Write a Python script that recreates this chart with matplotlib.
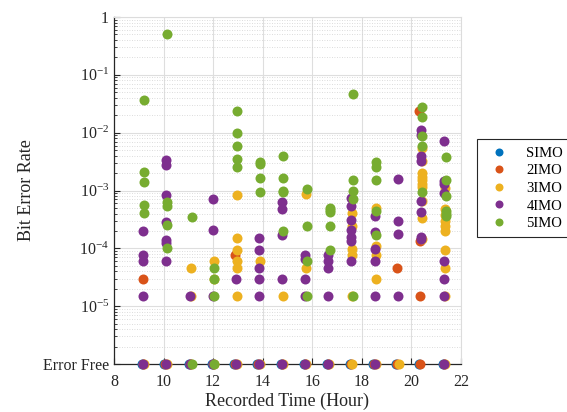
import numpy as np
import matplotlib.pyplot as plt
from matplotlib.ticker import LogLocator, NullFormatter

plt.rcParams['font.family'] = ['Liberation Serif', 'DejaVu Serif']
plt.rcParams['mathtext.fontset'] = 'custom'
plt.rcParams['mathtext.rm'] = 'Liberation Serif'
plt.rcParams['mathtext.it'] = 'Liberation Serif:italic'

# BER = 0 means "Error Free"
simo_t = [9.12, 10.02, 11.02, 11.94, 12.86, 13.79, 14.72, 15.66, 16.59, 17.52, 18.46, 19.39, 20.32, 21.27]
simo_ber = [0, 0, 0, 0, 0, 0, 0, 0, 0, 0, 0, 0, 0, 0]

imo2_t = [9.16, 9.16, 10.06, 11.06, 11.98, 12.9, 12.9, 13.83, 14.76, 15.7, 16.63, 17.56, 18.5,
          19.43, 19.43, 20.3, 20.36, 20.36, 20.36, 21.31]
imo2_ber = [3.0e-5, 0, 0, 0, 0, 7.6e-5, 0, 0, 0, 0, 0, 0, 0,
            4.6e-5, 0, 2.4e-2, 1.35e-4, 1.5e-5, 0, 0]

imo3_t = [9.22, 10.13,
          11.12, 11.12, 11.12,
          12.04, 12.04, 12.04,
          12.96, 12.96, 12.96, 12.96, 12.96, 12.96, 12.96,
          13.89, 13.89,
          14.82, 14.82,
          15.76, 15.76, 15.76,
          16.69,
          17.62, 17.62, 17.62, 17.62, 17.62, 17.62,
          18.56, 18.56, 18.56, 18.56, 18.56,
          19.49,
          20.42, 20.42, 20.42, 20.42, 20.42, 20.42, 20.42, 20.42, 20.42, 20.42,
          21.37, 21.37, 21.37, 21.37, 21.37, 21.37, 21.37, 21.37, 21.37, 21.37]
imo3_ber = [0, 0,
            4.5e-5, 1.5e-5, 0,
            6.1e-5, 3.0e-5, 0,
            8.2e-4, 1.5e-4, 9.2e-5, 6.1e-5, 4.6e-5, 1.5e-5, 0,
            6.1e-5, 0,
            1.5e-5, 0,
            8.8e-4, 4.6e-5, 0,
            0,
            4.1e-4, 2.4e-4, 9.7e-5, 7.8e-5, 1.5e-5, 0,
            5.0e-4, 1.1e-4, 7.6e-5, 3.0e-5, 0,
            0,
            5.5e-3, 3.2e-3, 2.0e-3, 1.7e-3, 1.5e-3, 1.3e-3, 1.15e-3, 6.5e-4, 3.3e-4, 1.45e-4,
            1.1e-3, 4.7e-4, 3.8e-4, 3.0e-4, 2.4e-4, 2.0e-4, 9.2e-5, 4.6e-5, 1.5e-5, 0]

imo4_t = [9.18, 9.18, 9.18, 9.18, 9.18,
          10.08, 10.08, 10.08, 10.08, 10.08, 10.08, 10.08, 10.08,
          11.08, 11.08,
          12.0, 12.0, 12.0, 12.0,
          12.92, 12.92,
          13.85, 13.85, 13.85, 13.85, 13.85, 13.85,
          14.78, 14.78, 14.78, 14.78, 14.78,
          15.72, 15.72, 15.72, 15.72, 15.72,
          16.65, 16.65, 16.65, 16.65, 16.65,
          17.58, 17.58, 17.58, 17.58, 17.58, 17.58, 17.58,
          18.52, 18.52, 18.52, 18.52, 18.52, 18.52,
          19.45, 19.45, 19.45, 19.45,
          20.38, 20.38, 20.38, 20.38, 20.38, 20.38, 20.38, 20.38,
          21.33, 21.33, 21.33, 21.33, 21.33, 21.33, 21.33, 21.33]
imo4_ber = [2.0e-4, 7.6e-5, 6.1e-5, 1.5e-5, 0,
            3.4e-3, 2.8e-3, 8.5e-4, 2.8e-4, 1.4e-4, 1.25e-4, 6.1e-5, 0,
            1.5e-5, 0,
            7.2e-4, 2.1e-4, 1.5e-5, 0,
            3.0e-5, 0,
            1.5e-4, 9.2e-5, 4.6e-5, 3.0e-5, 1.5e-5, 0,
            6.3e-4, 4.7e-4, 1.7e-4, 3.0e-5, 0,
            7.6e-5, 6.6e-5, 3.0e-5, 1.5e-5, 0,
            7.6e-5, 6.1e-5, 4.6e-5, 1.5e-5, 0,
            7.5e-4, 5.4e-4, 3.1e-4, 2.1e-4, 1.6e-4, 1.35e-4, 6.1e-5,
            3.6e-4, 1.9e-4, 9.7e-5, 6.1e-5, 1.5e-5, 0,
            1.6e-3, 3.0e-4, 1.8e-4, 1.5e-5,
            1.1e-2, 9.0e-3, 3.9e-3, 3.2e-3, 6.6e-4, 4.3e-4, 1.6e-4, 1.45e-4,
            7.1e-3, 1.45e-3, 1.3e-3, 9.1e-4, 6.1e-5, 3.0e-5, 1.5e-5, 0]

imo5_t = [9.23, 9.23, 9.23, 9.23, 9.23,
          10.15, 10.13, 10.13, 10.13, 10.13,
          11.13, 11.13,
          12.05, 12.05, 12.05, 12.05,
          12.97, 12.97, 12.97, 12.97, 12.97,
          13.9, 13.9, 13.9, 13.9,
          14.83, 14.83, 14.83, 14.83, 14.83,
          15.77, 15.77, 15.77, 15.77,
          16.7, 16.7, 16.7, 16.7, 16.7,
          17.63, 17.63, 17.63, 17.63, 17.63,
          18.57, 18.57, 18.57, 18.57, 18.57,
          20.43, 20.43, 20.43, 20.43, 20.43,
          21.38, 21.38, 21.38, 21.38, 21.38, 21.38]
imo5_ber = [3.7e-2, 2.1e-3, 1.4e-3, 5.6e-4, 4.1e-4,
            5.0e-1, 6.3e-4, 5.4e-4, 2.5e-4, 1.0e-4,
            3.5e-4, 0,
            4.5e-5, 3.0e-5, 1.5e-5, 0,
            2.4e-2, 1.0e-2, 6.0e-3, 3.5e-3, 2.6e-3,
            3.1e-3, 2.9e-3, 1.66e-3, 9.3e-4,
            3.9e-3, 1.66e-3, 1.0e-3, 9.5e-4, 2.0e-4,
            1.07e-3, 2.4e-4, 6.1e-5, 1.5e-5,
            5.0e-4, 4.6e-4, 4.2e-4, 2.4e-4, 9.5e-5,
            4.7e-2, 1.55e-3, 1.0e-3, 7.2e-4, 1.5e-5,
            3.1e-3, 2.6e-3, 1.55e-3, 4.4e-4, 1.7e-4,
            2.8e-2, 1.9e-2, 8.9e-3, 6.0e-3, 9.3e-4,
            3.8e-3, 1.55e-3, 7.9e-4, 4.4e-4, 3.9e-4, 3.6e-4]

series = [('SIMO', simo_t, simo_ber, '#0072BD'),
          ('2IMO', imo2_t, imo2_ber, '#D95319'),
          ('3IMO', imo3_t, imo3_ber, '#EDB120'),
          ('4IMO', imo4_t, imo4_ber, '#7E2F8E'),
          ('5IMO', imo5_t, imo5_ber, '#77AC30')]

error_free = 1e-6

fig = plt.figure(figsize=(5.67, 4.12), dpi=100)
ax = fig.add_axes([0.201, 0.1165, 0.612, 0.8422])

for name, t, ber, c in series:
    b = np.array(ber, dtype=float)
    y = np.where(b == 0, error_free, b)
    ax.plot(t, y, 'o', ms=7.2, color=c, mec='none', clip_on=False, label=name, zorder=3)

ax.set_yscale('log')
ax.set_ylim(error_free, 1)
ax.set_xlim(8, 22)
ax.set_xticks(range(8, 23, 2))
ax.set_yticks([1e-6, 1e-5, 1e-4, 1e-3, 1e-2, 1e-1, 1])
ax.set_yticklabels(['Error Free', '$10^{-5}$', '$10^{-4}$', '$10^{-3}$',
                    '$10^{-2}$', '$10^{-1}$', '1'])
ax.yaxis.set_minor_locator(LogLocator(base=10, subs=np.arange(2, 10), numticks=20))
ax.yaxis.set_minor_formatter(NullFormatter())

ax.grid(True, which='major', color='#dedede', lw=0.8, zorder=0)
ax.grid(True, which='minor', axis='y', color='#d0d0d0', ls=(0, (1, 2)), lw=0.6, zorder=0)
ax.set_axisbelow(True)

ax.tick_params(which='both', direction='in', colors='#262626', labelsize=11.5,
               right=False, top=False)
ax.tick_params(which='major', length=4)
ax.tick_params(which='minor', length=2)
ax.tick_params(axis='x', pad=7)
for s in ['left', 'bottom']:
    ax.spines[s].set_color('#262626')
    ax.spines[s].set_linewidth(0.9)
for s in ['top', 'right']:
    ax.spines[s].set_color('#dcdcdc')
    ax.spines[s].set_linewidth(0.8)

ax.set_xlabel('Recorded Time (Hour)', fontsize=13, color='#262626', labelpad=2)
ax.set_ylabel('Bit Error Rate', fontsize=13, color='#262626', labelpad=6)

leg = ax.legend(loc='upper left', bbox_to_anchor=(0.841, 0.662),
                bbox_transform=fig.transFigure, fontsize=10.5, markerscale=0.8,
                fancybox=False, framealpha=1, edgecolor='#262626', borderaxespad=0,
                labelspacing=0.3, handletextpad=0.9, borderpad=0.5, handlelength=2.0)
leg.get_frame().set_linewidth(0.8)

fig.savefig('out.png', dpi=100)
